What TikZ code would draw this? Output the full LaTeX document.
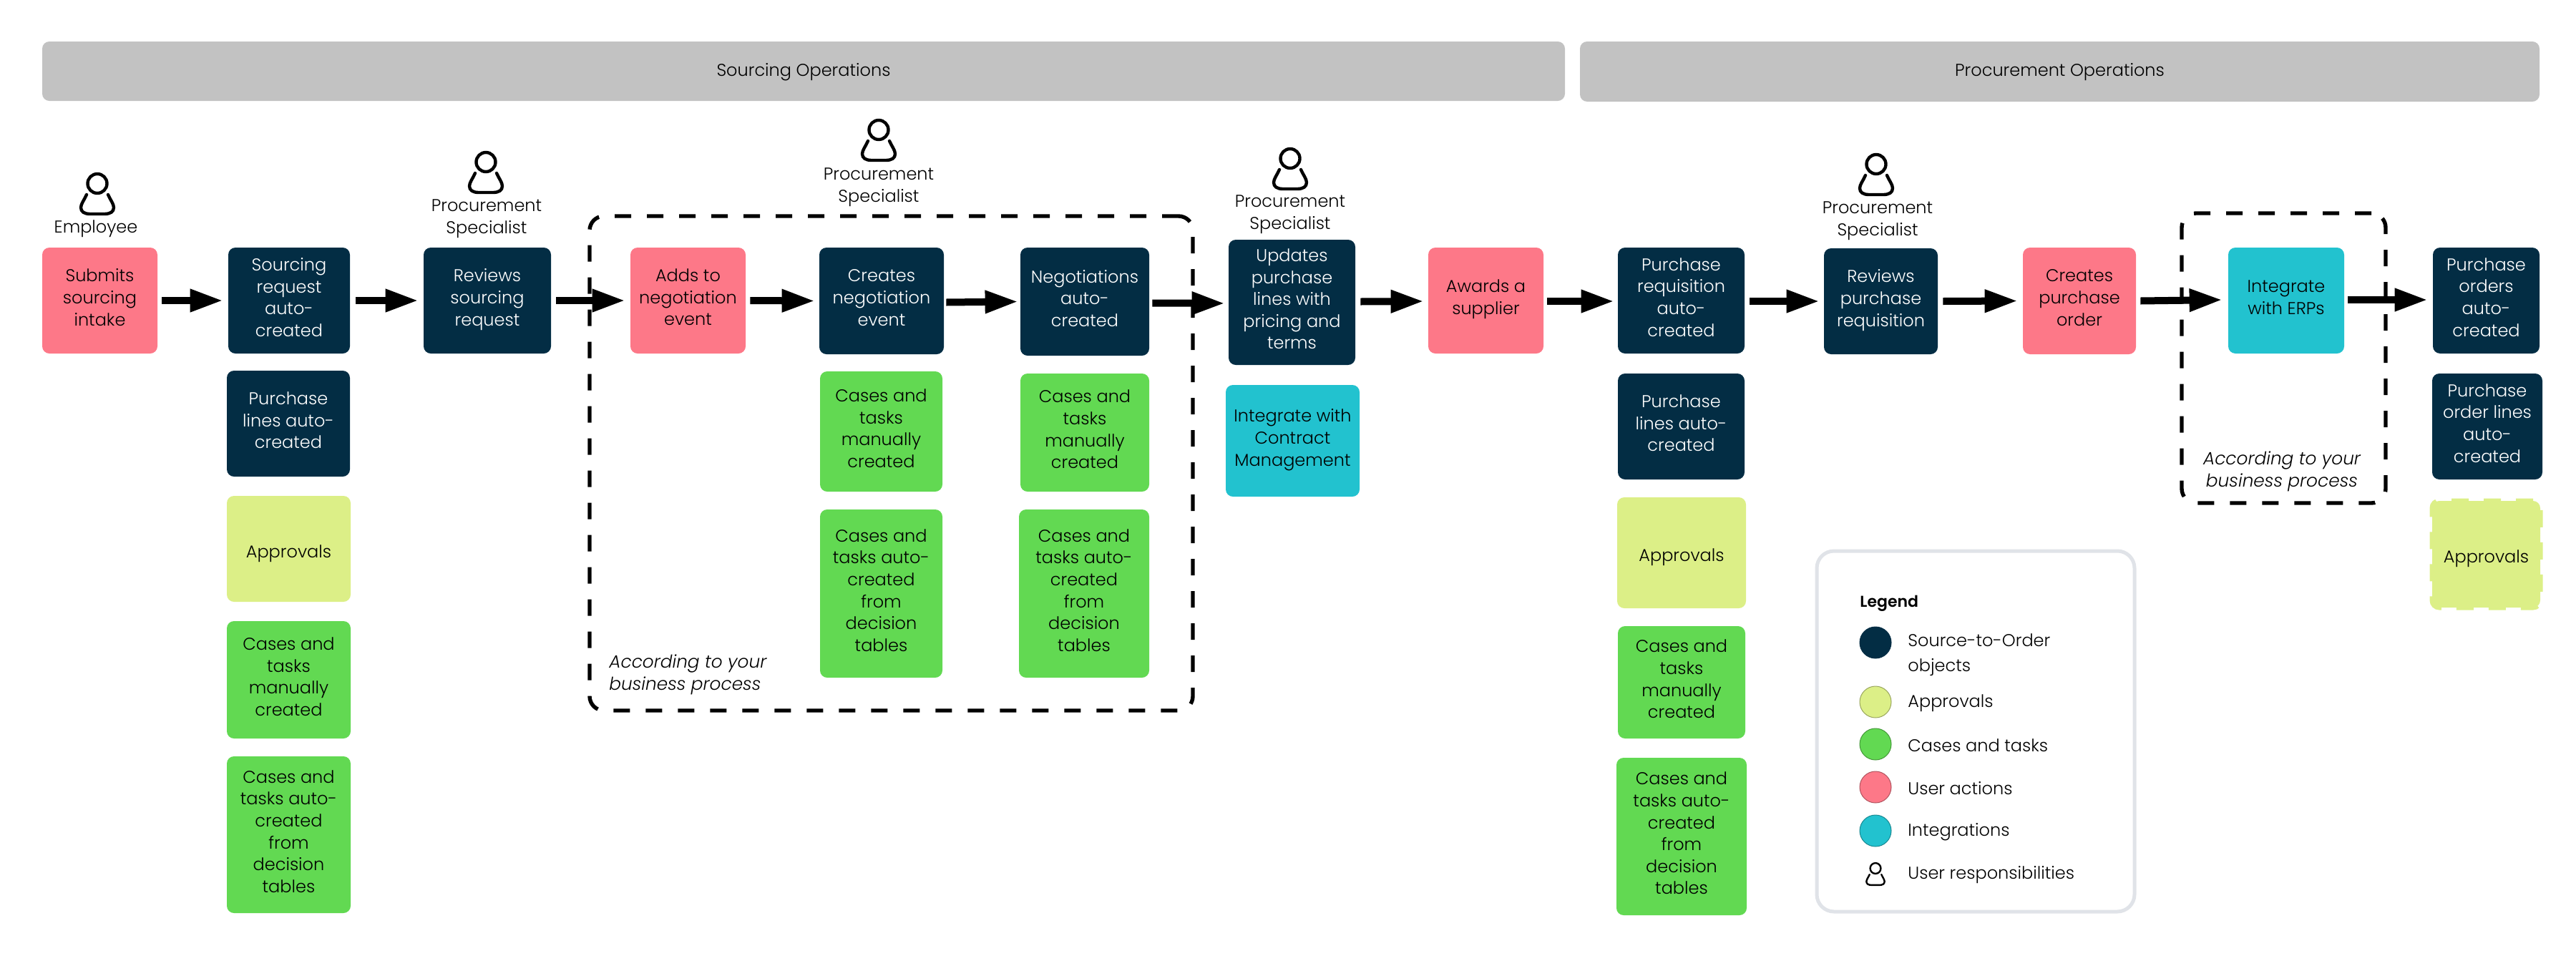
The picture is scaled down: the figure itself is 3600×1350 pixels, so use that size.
\documentclass[tikz,border=0pt]{standalone}
\usepackage{fontspec}
\setmainfont{Poppins Light}[BoldFont={Poppins SemiBold},ItalicFont={Poppins Light Italic}]
\usetikzlibrary{arrows.meta}
\definecolor{navy}{HTML}{032D44}
\definecolor{pinkb}{HTML}{FD7888}
\definecolor{greenb}{HTML}{62D952}
\definecolor{limeb}{HTML}{DCEF87}
\definecolor{tealb}{HTML}{22C2CF}
\definecolor{bannerc}{HTML}{C2C2C2}
\definecolor{legc}{HTML}{E0E3E8}
\tikzset{
  x=0.5pt,y=-0.5pt,
  base/.style={rectangle,rounded corners=5pt,inner sep=0pt,align=center,
    font=\fontsize{12}{15.3}\selectfont},
  tb/.style={base,execute at begin node=\rule{0pt}{16.7pt},execute at end node=\strut},
  objbox/.style={tb,fill=navy,text=white},
  userbox/.style={tb,fill=pinkb,text=black},
  casebox/.style={tb,fill=greenb,text=black},
  apprbox/.style={tb,fill=limeb,text=black},
  intbox/.style={tb,fill=tealb,text=black},
  dashedappr/.style={tb,fill=limeb,draw=limeb,line width=3.5pt,dash pattern=on 12pt off 10.5pt,text=black},
  bannerbox/.style={base,fill=bannerc,text=black},
  processframe/.style={base,draw=black,line width=2.7pt,dash pattern=on 11.5pt off 11pt,rounded corners=10pt},
  legendframe/.style={base,draw=legc,fill=white,line width=2.5pt,rounded corners=12pt},
  lbl/.style={inner sep=0pt,align=center,font=\fontsize{12}{15.3}\selectfont},
  leglbl/.style={inner sep=0pt,align=left,anchor=west,font=\fontsize{12}{17.5}\selectfont},
  note/.style={inner sep=0pt,font=\fontsize{12.4}{15.3}\selectfont\itshape},
  flow/.style={line width=5pt,-{Triangle[length=23pt,width=15pt]}},
  legdot/.style={circle,minimum size=22pt,inner sep=0pt,line width=0.5pt},
  pics/usericon/.style args={#1 and #2}{code={
    \draw[line width=#1,scale=#2] (0,15.5) circle[radius=13.5];
    \draw[line width=#1,scale=#2,line cap=round,line join=round]
      (-15,31) .. controls (-18,38) and (-23,44) .. (-23,49)
      .. controls (-23,55) and (-18,58) .. (-10,58) -- (10,58)
      .. controls (18,58) and (23,55) .. (23,49)
      .. controls (23,44) and (18,38) .. (15,31);
  }}
}
\newcommand\bx[7]{\node[#1,minimum width={(#5-#3)*0.5pt},minimum height={(#6-#4)*0.5pt}] (#2) at ({(#3+#5)/2},{(#4+#6)/2}) {#7};}
\begin{document}
\begin{tikzpicture}
\useasboundingbox (0,0) rectangle (3600,1350);
% banners
\bx{bannerbox}{b1}{59}{58}{2187}{141}{\rule{0pt}{10pt}Sourcing Operations}
\bx{bannerbox}{b2}{2208}{58}{3549}{142}{\rule{0pt}{10pt}Procurement Operations}
% dashed frames
\bx{processframe}{f1}{824}{302}{1667}{993}{}
\bx{processframe}{f2}{3049}{298}{3334}{703}{}
\node[note,align=left,anchor=west] (n1) at (851,943) {According to your\\business process};
\node[note,align=center] (n2) at (3189,659) {According to your\\business process};
% column 1
\bx{userbox}{a1}{59}{346}{220}{494}{Submits\\sourcing\\intake}
\bx{objbox}{a2}{319}{346}{489}{494}{Sourcing\\request\\auto-\\created}
\bx{objbox}{a2b}{317}{518}{489}{666}{Purchase\\lines auto-\\created}
\bx{apprbox}{a2c}{317}{693}{490}{841}{Approvals}
\bx{casebox}{a2d}{317}{868}{490}{1032}{Cases and\\tasks\\manually\\created}
\bx{casebox}{a2e}{317}{1057}{490}{1276}{Cases and\\tasks auto-\\created\\from\\decision\\tables}
\bx{objbox}{a3}{592}{346}{770}{494}{Reviews\\sourcing\\request}
\bx{userbox}{a4}{881}{346}{1042}{494}{Adds to\\negotiation\\event}
\bx{objbox}{a5}{1145}{346}{1319}{495}{Creates\\negotiation\\event}
\bx{casebox}{a5b}{1146}{519}{1317}{687}{Cases and\\tasks\\manually\\created}
\bx{casebox}{a5c}{1146}{712}{1317}{947}{Cases and\\tasks auto-\\created\\from\\decision\\tables}
\bx{objbox}{a6}{1426}{346}{1606}{497}{Negotiations\\auto-\\created}
\bx{casebox}{a6b}{1426}{522}{1606}{687}{Cases and\\tasks\\manually\\created}
\bx{casebox}{a6c}{1424}{712}{1606}{947}{Cases and\\tasks auto-\\created\\from\\decision\\tables}
\bx{objbox}{a7}{1717}{335}{1894}{510}{Updates\\purchase\\lines with\\pricing and\\terms}
\bx{intbox}{a7b}{1713}{538}{1900}{694}{Integrate with\\Contract\\Management}
\bx{userbox}{a8}{1996}{346}{2157}{494}{Awards a\\supplier}
\bx{objbox}{a9}{2261}{346}{2438}{494}{Purchase\\requisition\\auto-\\created}
\bx{objbox}{a9b}{2261}{522}{2438}{670}{Purchase\\lines auto-\\created}
\bx{apprbox}{a9c}{2260}{695}{2440}{850}{Approvals}
\bx{casebox}{a9d}{2261}{875}{2439}{1032}{Cases and\\tasks\\manually\\created}
\bx{casebox}{a9e}{2259}{1059}{2441}{1279}{Cases and\\tasks auto-\\created\\from\\decision\\tables}
\bx{objbox}{a10}{2549}{347}{2708}{495}{Reviews\\purchase\\requisition}
\bx{userbox}{a11}{2827}{346}{2985}{495}{Creates\\purchase\\order}
\bx{intbox}{a12}{3114}{346}{3276}{494}{Integrate\\with ERPs}
\bx{objbox}{a13}{3400}{346}{3549}{494}{Purchase\\orders\\auto-\\created}
\bx{objbox}{a13b}{3399}{522}{3553}{670}{Purchase\\order lines\\auto-\\created}
\bx{dashedappr}{a13c}{3399}{700}{3550}{849}{Approvals}
% arrows
\draw[flow] ([xshift=3pt]a1.east) -- ([xshift=-3.5pt]a2.west);
\draw[flow] ([xshift=4pt]a2.east) -- ([xshift=-3.5pt]a3.west);
\draw[flow] ([xshift=3.5pt]a3.east) -- ([xshift=-3.5pt]a4.west);
\draw[flow] ([xshift=3pt]a4.east) -- ([xshift=-3pt]a5.west);
\draw[flow] ([xshift=1.5pt,yshift=-1pt]a5.east) -- ([xshift=-1.5pt]a6.west);
\draw[flow] ([xshift=2pt,yshift=-1pt]a6.east) -- ([xshift=-2.5pt,yshift=-0.7pt]a7.west);
\draw[flow] ([xshift=3.5pt,yshift=0.5pt]a7.east) -- ([xshift=-3pt,yshift=-0.5pt]a8.west);
\draw[flow] ([xshift=2.5pt,yshift=-0.5pt]a8.east) -- ([xshift=-2.5pt,yshift=-0.5pt]a9.west);
\draw[flow] ([xshift=3.5pt,yshift=-0.5pt]a9.east) -- ([xshift=-3pt]a10.west);
\draw[flow] ([xshift=3.5pt]a10.east) -- ([xshift=-3.5pt,yshift=0pt]a11.west);
\draw[flow] ([xshift=3pt]a11.east) -- ([xshift=-4pt,yshift=0.5pt]a12.west);
\draw[flow] ([xshift=2.5pt,yshift=0.5pt]a12.east) -- ([xshift=-3.5pt,yshift=0.5pt]a13.west);
% users
\pic (u1) at (136,241) {usericon={2.2pt and 1}};
\node[lbl] (t1) at (134,320) {Employee};
\pic (u2) at (679,211) {usericon={2.2pt and 1}};
\node[lbl] (t2) at (680,306) {Procurement\\Specialist};
\pic (u3) at (1228,166) {usericon={2.2pt and 1}};
\node[lbl] (t3) at (1228,262) {Procurement\\Specialist};
\pic (u4) at (1803,206) {usericon={2.2pt and 1}};
\node[lbl] (t4) at (1803,300) {Procurement\\Specialist};
\pic (u5) at (2622,214) {usericon={2.2pt and 1}};
\node[lbl] (t5) at (2624,309) {Procurement\\Specialist};
% legend
\bx{legendframe}{leg}{2539}{770}{2983}{1274}{}
\node[inner sep=0pt,anchor=west,font=\fontsize{11}{15}\selectfont\bfseries] (lt) at (2599,843) {Legend};
\node[legdot,fill=navy,draw=navy] (d1) at (2621,898) {};
\node[leglbl] (l1) at (2666,915) {Source-to-Order\\objects};
\node[legdot,fill=limeb,draw=limeb!70!black] (d2) at (2621,981) {};
\node[leglbl] (l2) at (2666,983) {Approvals};
\node[legdot,fill=greenb,draw=greenb!70!black] (d3) at (2621,1040) {};
\node[leglbl] (l3) at (2666,1042) {Cases and tasks};
\node[legdot,fill=pinkb,draw=pinkb!70!black] (d4) at (2621,1100) {};
\node[leglbl] (l4) at (2666,1102) {User actions};
\node[legdot,fill=tealb,draw=tealb!70!black] (d5) at (2621,1161) {};
\node[leglbl] (l5) at (2666,1163) {Integrations};
\pic (d6) at (2621,1205) {usericon={1.2pt and 0.55}};
\node[leglbl] (l6) at (2666,1223) {User responsibilities};
\end{tikzpicture}
\end{document}
